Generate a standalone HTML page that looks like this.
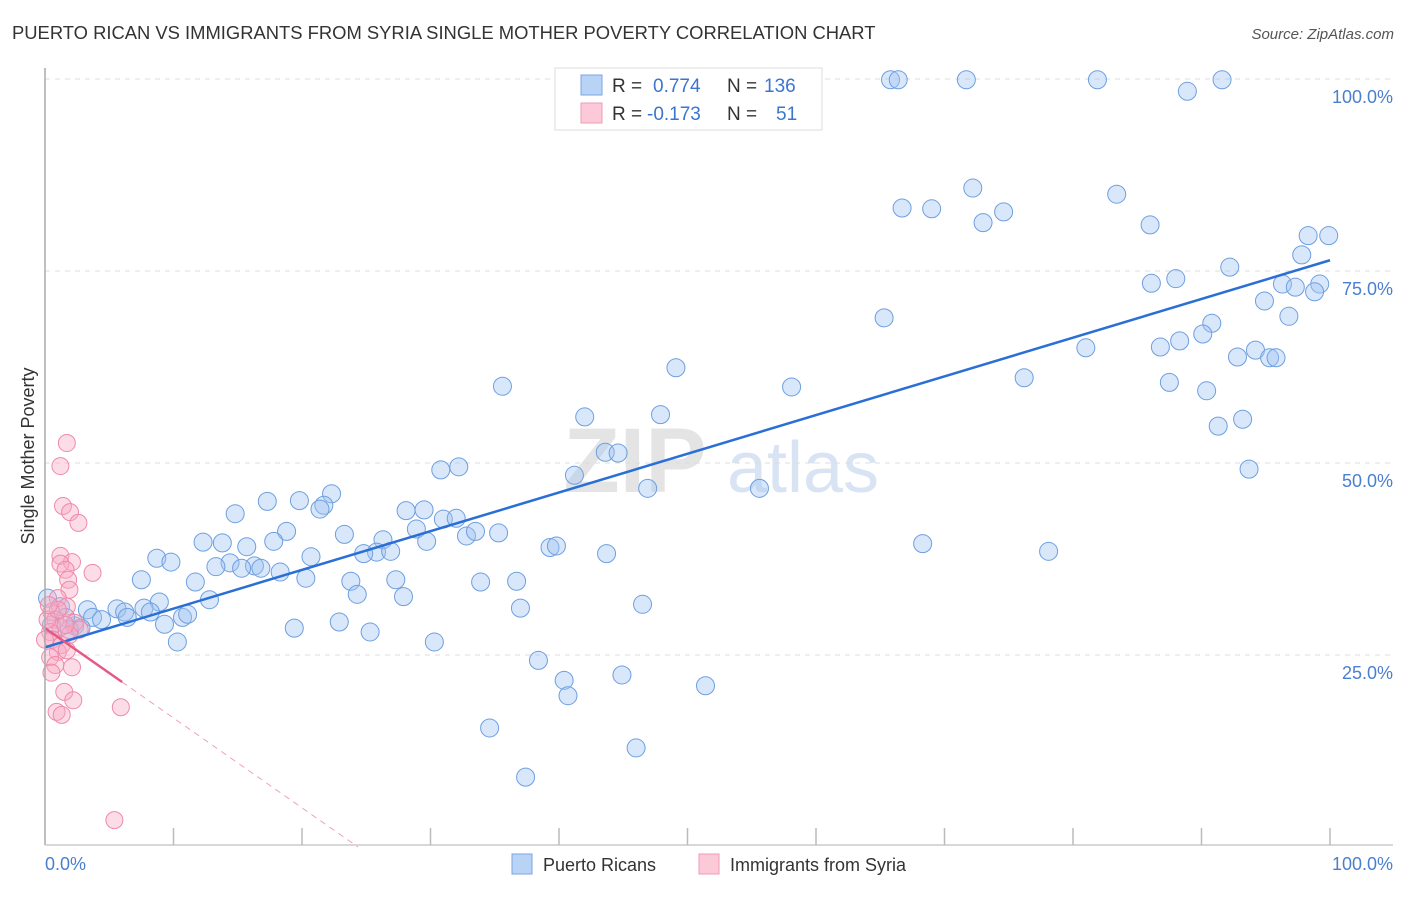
<!DOCTYPE html>
<html><head><meta charset="utf-8"><style>
body{margin:0;background:#fff;font-family:"Liberation Sans",sans-serif}
svg text{font-family:"Liberation Sans",sans-serif}
</style></head><body>
<svg width="1406" height="892" xmlns="http://www.w3.org/2000/svg">
<text x="12" y="39" font-size="18.4" fill="#333">PUERTO RICAN VS IMMIGRANTS FROM SYRIA SINGLE MOTHER POVERTY CORRELATION CHART</text>
<text x="1394" y="39" font-size="15" fill="#555" text-anchor="end" font-style="italic">Source: ZipAtlas.com</text>
<text x="34" y="456" font-size="18" fill="#333" text-anchor="middle" transform="rotate(-90 34 456)">Single Mother Poverty</text>
<g><text x="635" y="492" font-size="92" fill="#e4e4e4" text-anchor="middle" font-family="Liberation Serif,serif" font-weight="bold">ZIP</text><text x="803" y="492" font-size="72" fill="#d8e4f4" text-anchor="middle">atlas</text></g>
<g id="grid"></g>
<g id="pts"></g>
<g id="lines"></g>
<line x1="45" y1="68" x2="45" y2="845" stroke="#aaa" stroke-width="1.5"/>
<line x1="45" y1="845" x2="1393" y2="845" stroke="#ccc" stroke-width="1.5"/>
<g id="ticks"></g>
<text x="45" y="870" font-size="18" fill="#4a7fd0">0.0%</text>
<text x="1393" y="870" font-size="18" fill="#4a7fd0" text-anchor="end">100.0%</text>
<g>
<rect x="512" y="854" width="20" height="20" fill="#b8d3f5" stroke="#7aa5e0"/>
<text x="543" y="871" font-size="18" fill="#333">Puerto Ricans</text>
<rect x="699" y="854" width="20" height="20" fill="#fcc9d8" stroke="#f09ab5"/>
<text x="730" y="871" font-size="18" fill="#333">Immigrants from Syria</text>
</g>
<g>
<rect x="555" y="68" width="267" height="62" fill="#fff" stroke="#ddd"/>
<rect x="581" y="75" width="21" height="20" fill="#b8d3f5" stroke="#7aa5e0"/>
<rect x="581" y="103" width="21" height="20" fill="#fcc9d8" stroke="#f09ab5"/>
<text x="612" y="92" font-size="19" fill="#333">R =</text><text x="653" y="92" font-size="19" fill="#3a75d0">0.774</text>
<text x="727" y="92" font-size="19" fill="#333">N =</text><text x="764" y="92" font-size="19" fill="#3a75d0">136</text>
<text x="612" y="120" font-size="19" fill="#333">R =</text><text x="647" y="120" font-size="19" fill="#3a75d0">-0.173</text>
<text x="727" y="120" font-size="19" fill="#333">N =</text><text x="776" y="120" font-size="19" fill="#3a75d0">51</text>
</g>
</svg>
<script>
const yTicks=[25,50,75,100];
const yTickLabels=["25.0%","50.0%","75.0%","100.0%"];
const xTicks=[10,20,30,40,50,60,70,80,90,100];
const blueX=[65.8,66.4,71.7,81.9,91.6,88.9,72.2,83.4,66.7,69.0,74.6,73.0,86.0,98.3,99.9,97.8,92.2,86.1,88.0,96.3,97.3,99.2,98.8,94.9,96.8,65.3,90.8,90.1,88.3,86.8,81.0,94.2,92.8,95.3,95.8,49.1,76.2,87.5,90.4,58.1,35.6,42.0,47.9,93.2,91.3,43.6,44.6,32.2,30.8,93.7,41.2,46.9,55.6,22.3,17.3,19.8,21.7,21.4,28.1,29.5,14.8,31.0,32.0,32.8,33.5,35.3,28.9,29.7,18.8,23.3,26.3,68.3,12.3,13.8,17.8,15.7,39.3,39.8,78.1,25.8,24.8,26.9,43.7,8.7,9.8,20.7,14.4,13.3,16.3,15.3,16.8,18.3,7.5,11.7,20.3,23.8,27.3,33.9,36.7,24.3,27.9,12.8,8.9,46.5,37.0,3.3,5.6,7.7,8.2,6.2,3.7,6.4,4.4,10.7,11.1,9.3,22.9,2.3,2.8,19.4,25.3,10.3,30.3,38.4,44.9,40.4,51.4,40.7,34.6,46.0,37.4,0.2,1.2,1.6,1.9,0.5];
const blueY=[99.9,99.9,99.9,99.9,99.9,98.4,85.8,85.0,83.2,83.1,82.7,81.3,81.0,79.6,79.6,77.1,75.5,73.4,74.0,73.3,72.9,73.3,72.3,71.1,69.1,68.9,68.2,66.8,65.9,65.1,65.0,64.7,63.8,63.7,63.7,62.4,61.1,60.5,59.4,59.9,60.0,56.0,56.3,55.7,54.8,51.4,51.3,49.5,49.1,49.2,48.4,46.7,46.7,46.0,45.0,45.1,44.5,44.0,43.8,43.9,43.4,42.7,42.8,40.5,41.1,40.9,41.4,39.8,41.1,40.7,40.0,39.5,39.7,39.6,39.8,39.1,39.0,39.2,38.5,38.4,38.2,38.5,38.2,37.6,37.1,37.8,37.0,36.5,36.6,36.3,36.3,35.8,34.8,34.5,35.0,34.6,34.8,34.5,34.6,32.9,32.6,32.2,31.9,31.6,31.1,30.9,31.0,31.1,30.6,30.6,29.9,29.9,29.6,29.9,30.3,29.0,29.3,28.8,28.5,28.5,28.0,26.7,26.7,24.3,22.4,21.7,21.0,19.7,15.5,12.9,9.1,32.4,31.3,29.9,28.3,28.9];
const pinkX=[1.7,1.2,1.4,1.95,2.6,1.2,2.1,3.7,1.2,1.6,1.8,1.9,1.0,1.7,0.5,0.8,1.2,0.4,0.6,1.3,1.0,0.4,1.7,0.8,2.1,0.5,1.5,2.2,0.9,1.3,5.9,5.4,0.2,2.3,2.7,1.9,0.0,1.6,1.0,0.3];
const pinkY=[52.6,49.6,44.4,43.6,42.2,37.9,37.1,35.7,36.9,36.1,34.8,33.5,32.4,31.3,30.6,29.6,28.6,28.0,27.0,26.3,25.4,24.7,25.6,23.7,23.4,22.7,20.2,19.1,17.6,17.2,18.2,3.5,29.6,29.2,28.3,27.6,27.0,28.9,30.9,31.5];
const blueFit=[26.0,76.4];
const pinkFit=[28.5,-1.17];
const X=v=>45+v*12.85, Y=v=>847-v*7.68;
const NS="http://www.w3.org/2000/svg";
function mk(tag,attrs,parent){const e=document.createElementNS(NS,tag);for(const k in attrs)e.setAttribute(k,attrs[k]);document.getElementById(parent).appendChild(e);return e;}
yTicks.forEach((t,i)=>{
 const g=mk('line',{x1:45,x2:1393,y1:Y(t),y2:Y(t),stroke:'#ddd','stroke-dasharray':'5,5'},'grid');
 
 
 const l=mk('text',{x:1393,y:Y(t)+24,'font-size':18,fill:'#4a7fd0','text-anchor':'end'},'grid');
 l.textContent=yTickLabels[i];
 
 
});
xTicks.forEach(t=>{
 const k=mk('line',{x1:X(t),x2:X(t),y1:828,y2:845,stroke:'#bbb','stroke-width':1.5},'ticks');
 
 
});
blueX.forEach((x,i)=>{
 const c=mk('circle',{cx:X(x),cy:Y(blueY[i]),r:9,fill:'rgba(160,196,242,0.4)',stroke:'#6e9fe0','stroke-width':1},'pts');
 
 
});
pinkX.forEach((x,i)=>{
 const c=mk('circle',{cx:X(x),cy:Y(pinkY[i]),r:8.5,fill:'rgba(248,170,195,0.4)',stroke:'#ee8aaa','stroke-width':1},'pts');
 
 
});
const b=mk('line',{x1:X(0),y1:Y(blueFit[0]),x2:X(100),y2:Y(blueFit[1]),stroke:'#2a6fd6','stroke-width':2.5},'lines');


const pf=x=>pinkFit[0]+pinkFit[1]*x;
const xEnd=-pinkFit[0]/pinkFit[1];
const pd=mk('line',{x1:X(6),y1:Y(pf(6)),x2:X(xEnd),y2:Y(0),stroke:'#f0a0b8','stroke-width':1,'stroke-dasharray':'6,5'},'lines');


const ps=mk('line',{x1:X(0),y1:Y(pf(0)),x2:X(6),y2:Y(pf(6)),stroke:'#e45a86','stroke-width':2.5},'lines');


</script>
</body></html>
